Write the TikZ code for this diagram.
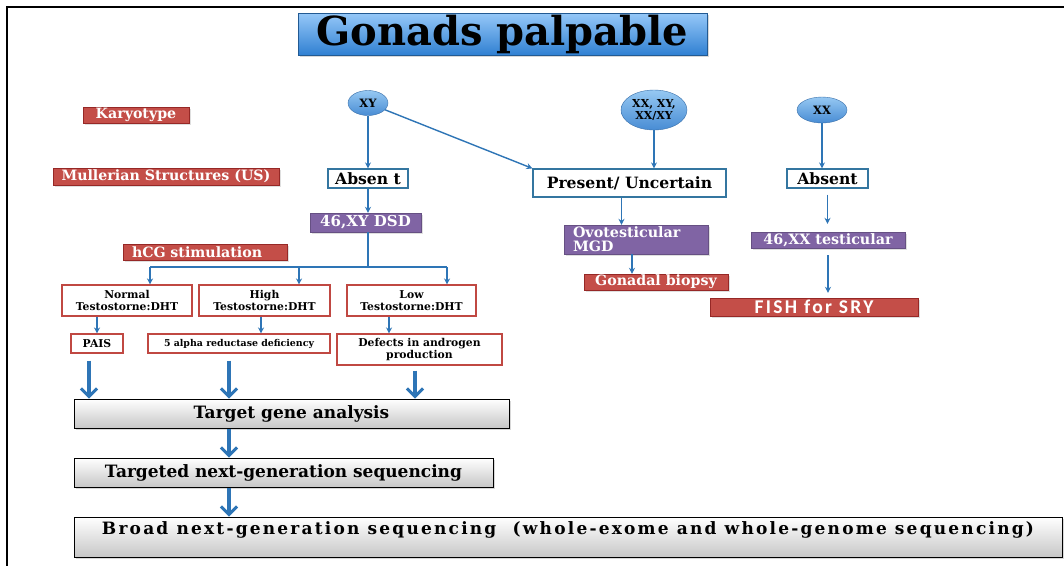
\documentclass[tikz,border=0pt]{standalone}
\usepackage{fontspec}
\setmainfont{DejaVu Serif}
\newfontfamily\fishfont[LetterSpace=12]{Carlito}
\newfontfamily\widefont[LetterSpace=13]{DejaVu Serif}
\usetikzlibrary{arrows.meta,shadows,shapes.geometric}
\definecolor{flowblue}{RGB}{46,117,182}
\definecolor{labelred}{RGB}{196,78,72}
\definecolor{labeledge}{RGB}{150,40,38}
\definecolor{dsdpurple}{RGB}{128,100,164}
\definecolor{outlinered}{RGB}{192,72,66}
\definecolor{outlineteal}{RGB}{52,118,160}
\definecolor{balltop}{RGB}{150,200,242}
\definecolor{ballbottom}{RGB}{72,140,212}
\definecolor{titletop}{RGB}{150,200,248}
\definecolor{titlebottom}{RGB}{48,128,210}

\begin{document}
\begin{tikzpicture}[x=1pt, y=-1pt,
        flow/.style={flowblue, line width=1.4pt, -{Stealth[length=6pt,width=6pt]}},
        bigflow/.style={flowblue, line width=3.2pt, -{Straight Barb[length=8pt,width=16pt,line width=3pt]}},
        redlabel/.style={draw=labeledge, fill=labelred, text=white, inner sep=0pt,
          font=\bfseries\fontsize{14.2}{15}\selectfont,
          drop shadow={opacity=.25, shadow xshift=2pt, shadow yshift=-2pt}},
        purplelabel/.style={draw=dsdpurple!80!black, fill=dsdpurple, text=white, inner sep=0pt,
          font=\bfseries\fontsize{14.3}{14}\selectfont,
          drop shadow={opacity=.25, shadow xshift=2pt, shadow yshift=-2pt}},
        tealbox/.style={draw=outlineteal, line width=1.2pt, fill=white, inner sep=0pt,
          font=\bfseries\fontsize{15.6}{17}\selectfont},
        redbox/.style={draw=outlinered, line width=1.1pt, fill=white, inner sep=0pt, align=center,
          font=\bfseries\fontsize{10.8}{11.5}\selectfont},
        ball/.style={ellipse, draw=ballbottom!80!black, top color=balltop, bottom color=ballbottom,
          inner sep=0pt, align=center, font=\bfseries\fontsize{11.5}{12}\selectfont},
        graybox/.style={draw=black, line width=1pt, top color=white, bottom color=black!22,
          inner sep=0pt, font=\bfseries\fontsize{17}{19}\selectfont,
          drop shadow={opacity=.3, shadow xshift=2pt, shadow yshift=-2pt}}]
        \useasboundingbox (0,0) rectangle (1064,566);
        \fill[white] (0,0) rectangle (1064,566);
        \draw[line width=2.4pt] (1064,7) -- (7,7) -- (7,566);
        \node[draw=titlebottom!70!black, top color=titletop, bottom color=titlebottom,
          minimum width=409, minimum height=42, inner sep=0pt,
          font=\bfseries\fontsize{40}{42}\selectfont,
          drop shadow={opacity=.3, shadow xshift=2pt, shadow yshift=-2pt}]
          at (502.5,34) (title) {Gonads palpable};
        \node[redlabel, minimum width=106, minimum height=16] at (136,115) (karyo) {Karyotype};
        \node[redlabel, minimum width=226, minimum height=17] at (166,176.5) (muller) {Mullerian Structures (US)};
        \node[redlabel, text width=146, inner xsep=9, minimum height=16, align=left] at (205,252) (hcg) {hCG stimulation};
        \node[ball, minimum width=40, minimum height=25] at (368,103) (xy) {XY};
        \node[ball, minimum width=66, minimum height=40, font=\bfseries\fontsize{11}{11.5}\selectfont] at (654,110) (mixed) {XX, XY,\\XX/XY};
        \node[ball, minimum width=50, minimum height=26] at (822,110) (xx) {XX};
        \node[tealbox, minimum width=80, minimum height=19] at (368,178.5) (absentA) {Absen t};
        \node[tealbox, minimum width=193, minimum height=28] at (629.5,183) (present) {Present/ Uncertain};
        \node[tealbox, minimum width=81, minimum height=19] at (827.5,178.5) (absentB) {Absent};
        \node[purplelabel, minimum width=111, minimum height=19, font=\bfseries\fontsize{15}{15}\selectfont] at (365.5,222.5) (dsd) {46,XY DSD};
        \node[purplelabel, text width=126, inner xsep=9, minimum height=29, align=left] at (636,239.5) (ovo) {Ovotesticular\\MGD};
        \node[purplelabel, minimum width=154, minimum height=16] at (828,240) (xxtest) {46,XX testicular};
        \node[redlabel, minimum width=144, minimum height=16] at (656,282) (biopsy) {Gonadal biopsy};
        \node[redlabel, minimum width=208, minimum height=18, font=\fishfont\bfseries\fontsize{19.5}{20}\selectfont] at (814,307) (fish) {FISH for SRY};
        \node[redbox, minimum width=130, minimum height=31] at (127,300.5) (normal) {Normal\\Testostorne:DHT};
        \node[redbox, minimum width=131, minimum height=31] at (264.5,300.5) (high) {High\\Testostorne:DHT};
        \node[redbox, minimum width=129, minimum height=31] at (411.5,300.5) (low) {Low\\Testostorne:DHT};
        \node[redbox, minimum width=52, minimum height=19] at (97,343.5) (pais) {PAIS};
        \node[redbox, minimum width=182, minimum height=19, font=\bfseries\fontsize{9.4}{10}\selectfont] at (239,343.5) (alpha) {5 alpha reductase deficiency};
        \node[redbox, minimum width=165, minimum height=31, font=\bfseries\fontsize{10.8}{12}\selectfont] at (419.5,349.5) (defects) {Defects in androgen\\production};
        \node[graybox, minimum width=435, minimum height=29] at (291.5,413.5) (target) {Target gene analysis};
        \node[graybox, minimum width=419, minimum height=29] at (283.5,472.5) (tngs) {Targeted next-generation sequencing};
        \node[graybox, minimum width=988, text height=14, text depth=20, inner ysep=3, font=\widefont\bfseries\fontsize{17}{19}\selectfont] at (568,537) (broad) {Broad next-generation sequencing\ \ (whole-exome and whole-genome sequencing)};
        \coordinate (split) at (368,267);
        \coordinate (bN) at (150,267);
        \coordinate (bH) at (299,267);
        \coordinate (bL) at (447,267);
        \draw[flow] (xy) to (absentA);
        \draw[flow] (xy) to (present.north west);
        \draw[flow] (mixed.south) to (mixed.south |- present.north);
        \draw[flow] (xx.south) to (xx.south |- absentB.north);
        \draw[flow] ([xshift=-8]present.south) to ([xshift=-8]present.south |- ovo.north);
        \draw[flow] ([xshift=-4]ovo.south) to ([xshift=-4]ovo.south |- biopsy.north);
        \draw[flow, shorten <=6pt, shorten >=8pt] (absentB.south) to (absentB.south |- xxtest.north);
        \draw[flow, shorten <=7pt, shorten >=5pt] (xxtest.south) to (xxtest.south |- fish.north);
        \draw[flow] (absentA) to (absentA |- dsd.north);
        \draw[flowblue, line width=1.4pt] (split |- dsd.south) -- (split);
        \draw[flowblue, line width=1.4pt] (bN) -- (bL);
        \draw[flow] (bN) to (bN |- normal.north);
        \draw[flow] (bH) to (bH |- high.north);
        \draw[flow] (bL) to (bL |- low.north);
        \draw[flow] ([xshift=-30]normal.south) to ([xshift=-30]normal.south |- pais.north);
        \draw[flow] ([xshift=-3.5]high.south) to ([xshift=-3.5]high.south |- alpha.north);
        \draw[flow] ([xshift=-22.5]low.south) to ([xshift=-22.5]low.south |- defects.north);
        \draw[bigflow, shorten <=7pt] ([xshift=-8]pais.south) to ([xshift=-8]pais.south |- target.north);
        \draw[bigflow, shorten <=7pt] ([xshift=-10]alpha.south) to ([xshift=-10]alpha.south |- target.north);
        \draw[bigflow, shorten <=5pt] ([xshift=-4.5]defects.south) to ([xshift=-4.5]defects.south |- target.north);
        \draw[bigflow] ([xshift=-62.5]target.south) to ([xshift=-62.5]target.south |- tngs.north);
        \draw[bigflow] ([xshift=-54.5]tngs.south) to ([xshift=-54.5]tngs.south |- broad.north);
      \end{tikzpicture}
\end{document}
